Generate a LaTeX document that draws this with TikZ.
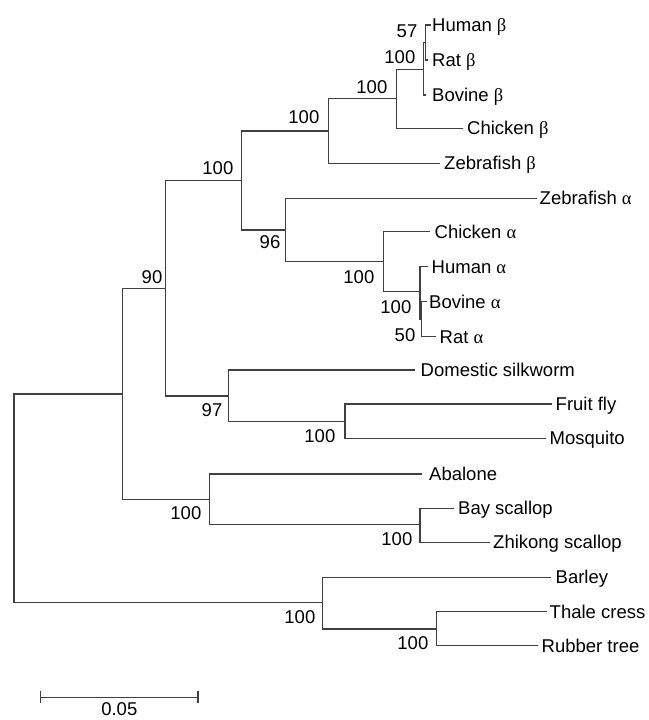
\documentclass[tikz,border=0pt]{standalone}
\usepackage{fontspec}
\setmainfont{Liberation Sans}
\newfontfamily\grkfont{Liberation Serif}
\newcommand\labfont{\fontsize{18.5}{20}\selectfont}
\newcommand\gal{{\grkfont α}}
\newcommand\gbe{{\grkfont β}}
\begin{document}
\begin{tikzpicture}[x=1pt,y=-1pt,
  br/.style={line width=1.1pt, draw=black!75},
  leaflab/.style={anchor=base west, inner sep=0pt, font=\labfont},
  boot/.style={anchor=base east, inner sep=0pt, font=\labfont}]
\useasboundingbox (0,0) rectangle (648,720);
% internal nodes
\coordinate (R) at (14,498);
\coordinate (N90) at (122.7,394);
\coordinate (Npl) at (322.7,602.7);
\coordinate (Nbi) at (165.7,288.3);
\coordinate (Nmol) at (209.3,499.3);
\coordinate (Nba) at (241.7,180.7);
\coordinate (Nins) at (228.3,396);
\coordinate (Nbeta) at (328.3,131);
\coordinate (Nal) at (285.7,230);
\coordinate (Nb2) at (396.7,98.3);
\coordinate (Nb3) at (423.3,69.3);
\coordinate (Nb4) at (425.7,42.5);
\coordinate (Na2) at (383.7,261.7);
\coordinate (Na3) at (420,291.7);
\coordinate (Na4) at (421.7,319);
\coordinate (Nfly) at (345,421.7);
\coordinate (Nscal) at (420,524.3);
\coordinate (Nth) at (436.7,629);
% leaf tips
\coordinate (hb) at (430.7,25);
\coordinate (rb) at (427.5,60);
\coordinate (bb) at (425.7,95);
\coordinate (cb) at (462.7,128.3);
\coordinate (zb) at (440,163.3);
\coordinate (za) at (537.3,198.3);
\coordinate (ca) at (430,231.7);
\coordinate (ha) at (427.7,266.7);
\coordinate (boa) at (426.7,301.7);
\coordinate (ra) at (436,336.7);
\coordinate (sw) at (415,370);
\coordinate (ff) at (551.7,404);
\coordinate (mq) at (546,438.3);
\coordinate (ab) at (421.7,474);
\coordinate (bs) at (454,508.3);
\coordinate (zs) at (490,542.3);
\coordinate (ba) at (550.7,577.3);
\coordinate (tc) at (546.7,611.7);
\coordinate (rt) at (538.3,645.7);
% branches
\draw[br] (N90) -| (R) |- (Npl);
\draw[br] (Nbi) -| (N90) |- (Nmol);
\draw[br] (Nba) -| (Nbi) |- (Nins);
\draw[br] (Nbeta) -| (Nba) |- (Nal);
\draw[br] (Nb2) -| (Nbeta) |- (zb);
\draw[br] (Nb3) -| (Nb2) |- (cb);
\draw[br] (Nb4) -| (Nb3) |- (bb);
\draw[br] (hb) -| (Nb4) |- (rb);
\draw[br] (za) -| (Nal) |- (Na2);
\draw[br] (ca) -| (Na2) |- (Na3);
\draw[br] (ha) -| (Na3) |- (Na4);
\draw[br] (boa) -| (Na4) |- (ra);
\draw[br] (sw) -| (Nins) |- (Nfly);
\draw[br] (ff) -| (Nfly) |- (mq);
\draw[br] (ab) -| (Nmol) |- (Nscal);
\draw[br] (bs) -| (Nscal) |- (zs);
\draw[br] (ba) -| (Npl) |- (Nth);
\draw[br] (tc) -| (Nth) |- (rt);
% leaf labels
\node[leaflab] (Lhb) at (432,31.5) {Human \gbe};
\node[leaflab] (Lrb) at (432,66.5) {Rat \gbe};
\node[leaflab] (Lbb) at (432,101.5) {Bovine \gbe};
\node[leaflab] (Lcb) at (467,134.8) {Chicken \gbe};
\node[leaflab] (Lzb) at (444,169.8) {Zebrafish \gbe};
\node[leaflab] (Lza) at (539.5,204.8) {Zebrafish \gal};
\node[leaflab] (Lca) at (434.5,238.2) {Chicken \gal};
\node[leaflab] (Lha) at (431.5,273.2) {Human \gal};
\node[leaflab] (Lboa) at (429,308.2) {Bovine \gal};
\node[leaflab] (Lra) at (439.5,343.2) {Rat \gal};
\node[leaflab] (Lsw) at (420.5,376.5) {Domestic silkworm};
\node[leaflab] (Lff) at (555.5,410.5) {Fruit fly};
\node[leaflab] (Lmq) at (549.5,444.8) {Mosquito};
\node[leaflab] (Lab) at (429,480.5) {Abalone};
\node[leaflab] (Lbs) at (458,514.8) {Bay scallop};
\node[leaflab] (Lzs) at (493,548.8) {Zhikong scallop};
\node[leaflab] (Lba) at (555.5,583.8) {Barley};
\node[leaflab] (Ltc) at (549.5,618.2) {Thale cress};
\node[leaflab] (Lrt) at (541.5,652.2) {Rubber tree};
% bootstrap values
\node[boot] (B57) at (417.5,37.3) {57};
\node[boot] (Bb3) at (415.5,63.3) {100};
\node[boot] (Bb2) at (387.5,93.6) {100};
\node[boot] (Bbeta) at (319.5,123.6) {100};
\node[boot] (Bba) at (233.5,174.6) {100};
\node[boot] (Bal) at (280.5,248.6) {96};
\node[boot] (Ba2) at (374.5,283.6) {100};
\node[boot] (Ba3) at (411.5,313.1) {100};
\node[boot] (B50) at (415.5,341.6) {50};
\node[boot] (B90) at (162.5,283.3) {90};
\node[boot] (B97) at (222.5,416.6) {97};
\node[boot] (Bfly) at (335.5,442.6) {100};
\node[boot] (Bmol) at (201.5,519.6) {100};
\node[boot] (Bscal) at (412.5,545.9) {100};
\node[boot] (Bpl) at (315.5,623.3) {100};
\node[boot] (Bth) at (428.5,649.3) {100};
% scale bar
\coordinate (sbL) at (40.7,697.3);
\coordinate (sbR) at (198,697.3);
\draw[br] (sbL) -- (sbR);
\draw[br] ([yshift=-6pt]sbL) -- ([yshift=6pt]sbL);
\draw[br] ([yshift=-6pt]sbR) -- ([yshift=6pt]sbR);
\node[anchor=base, inner sep=0pt, font=\labfont] (sblab) at (119.3,715.5) {0.05};
\end{tikzpicture}
\end{document}
